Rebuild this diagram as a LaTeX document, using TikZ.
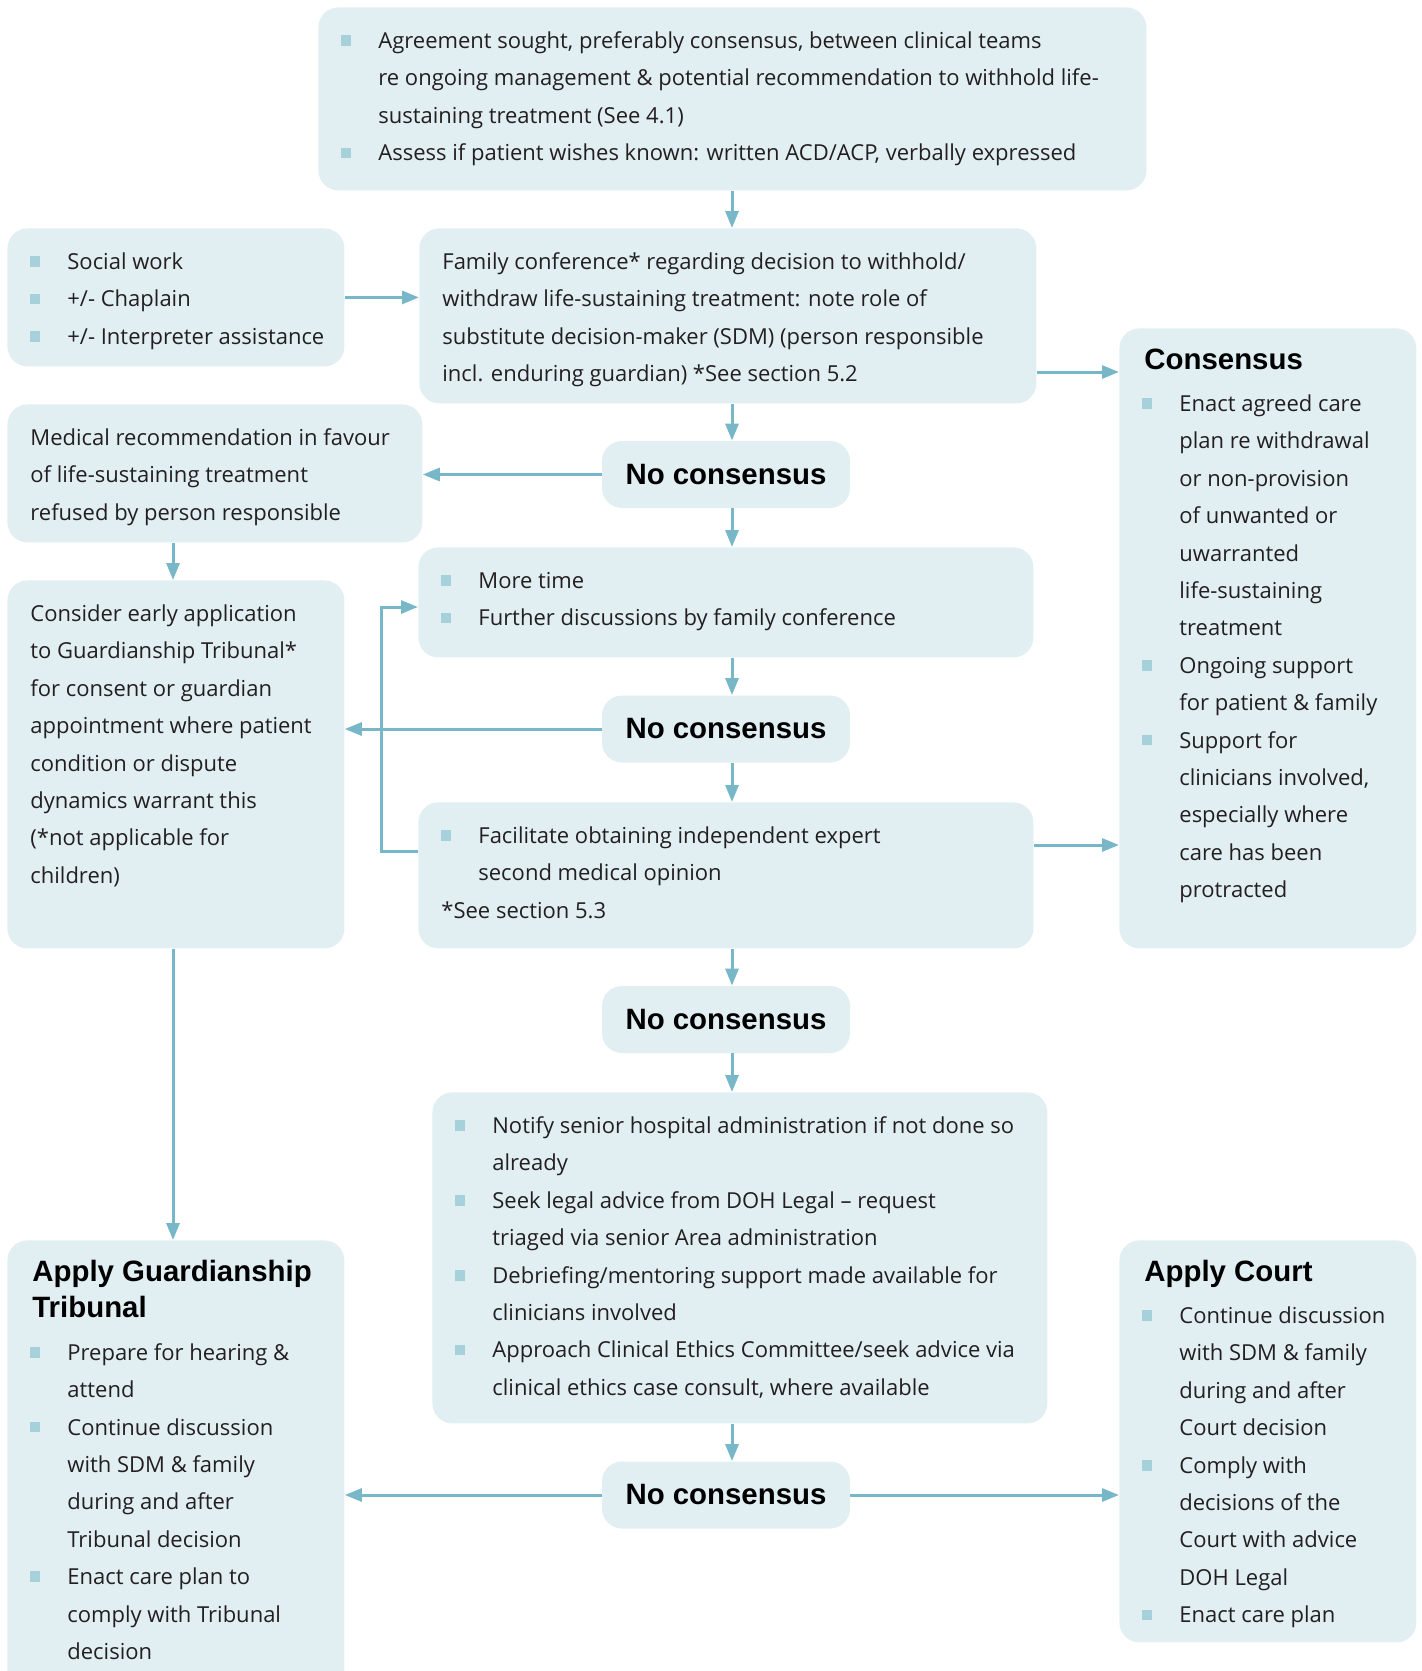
\documentclass[tikz,border=0pt]{standalone}
\usepackage{fontspec}
\setmainfont{Open Sans}
\newfontfamily\headfamily{Liberation Sans}
\usetikzlibrary{arrows.meta}

\definecolor{boxfill}{HTML}{E1EFF3}
\definecolor{arrowc}{HTML}{78B7C8}
\definecolor{bulletc}{HTML}{A6D1DB}
\definecolor{textc}{HTML}{231F20}

\newcommand{\bodyfont}{\fontsize{11}{18.7}\selectfont\color{textc}}
\newcommand{\headfont}{\headfamily\bfseries\fontsize{14.7}{18.35}\selectfont\color{black}}
\newcommand{\bul}{\par\leftskip=0pt\hangindent=30pt\hangafter=1\noindent\makebox[30pt][l]{\hspace{11.2pt}\textcolor{bulletc}{\rule[1.3pt]{5.3pt}{5.3pt}}}\strut}
\newcommand{\pln}{\par\leftskip=11.5pt\noindent\strut}
\newcommand{\hd}[1]{\par\leftskip=12.5pt\noindent{\headfont\strut #1\par}\vskip2.5pt}
\newcommand{\panel}[3]{\parbox[t][#2][t]{#1}{\bodyfont\rightskip=0pt plus 1fil minus 40pt\vskip7.5pt #3\par}}

\begin{document}
\begin{tikzpicture}[
    x=0.5pt, y=-0.5pt,
    panel/.style={fill=boxfill, rounded corners=10pt, inner sep=0pt, anchor=north west},
    nobox/.style={fill=boxfill, rounded corners=10pt, inner sep=0pt,
      minimum width=124pt, minimum height=33.5pt, font=\headfont},
    arr/.style={draw=arrowc, line width=1.5pt, -{Triangle[length=8.5pt, width=6.5pt]}}
  ]
  \useasboundingbox (0,0) rectangle (1421,1671);

  \node[panel] (top) at (318,7) {\panel{414pt}{91.5pt}{%
    \bul Agreement sought, preferably consensus, between clinical teams\\
    re ongoing management \& potential recommendation to withhold life-\\
    sustaining treatment (See 4.1)
    \bul Assess if patient wishes known: written ACD/ACP, verbally expressed}};
  \node[panel] (social) at (7,228) {\panel{168.5pt}{69pt}{%
    \bul Social work
    \bul +/- Chaplain
    \bul +/- Interpreter assistance}};
  \node[panel] (family) at (419,228) {\panel{308.5pt}{87.5pt}{%
    \pln Family conference* regarding decision to withhold/\\
    withdraw life-sustaining treatment: note role of\\
    substitute decision-maker (SDM) (person responsible\\
    incl. enduring guardian) *See section 5.2}};
  \node[panel] (consensus) at (1119,328) {\panel{148.5pt}{310pt}{%
    \hd{Consensus}
    \bul Enact agreed care\\ plan re withdrawal\\ or non-provision\\ of unwanted or\\
    uwarranted\\ life-sustaining\\ treatment
    \bul Ongoing support\\ for patient \& family
    \bul Support for\\ clinicians involved,\\ especially where\\ care has been\\ protracted}};
  \node[panel] (medical) at (7,404) {\panel{207.5pt}{69pt}{%
    \pln Medical recommendation in favour\\
    of life-sustaining treatment\\
    refused by person responsible}};
  \node[nobox] (noc1) at (726,474.5) {No consensus};
  \node[panel] (more) at (418,547) {\panel{307.5pt}{55pt}{%
    \bul More time
    \bul Further discussions by family conference}};
  \node[panel] (consider) at (7,580) {\panel{168.5pt}{184pt}{%
    \pln Consider early application\\ to Guardianship Tribunal*\\
    for consent or guardian\\ appointment where patient\\
    condition or dispute\\ dynamics warrant this\\
    (*not applicable for\\ children)}};
  \node[nobox] (noc2) at (726,729) {No consensus};
  \node[panel] (facilitate) at (418,802) {\panel{307.5pt}{73pt}{%
    \bul Facilitate obtaining independent expert\\ second medical opinion
    \pln *See section 5.3}};
  \node[nobox] (noc3) at (726,1019.5) {No consensus};
  \node[panel] (notify) at (432,1092) {\panel{307.5pt}{165.5pt}{%
    \bul Notify senior hospital administration if not done so\\ already
    \bul Seek legal advice from DOH Legal -- request\\ triaged via senior Area administration
    \bul Debriefing/mentoring support made available for\\ clinicians involved
    \bul Approach Clinical Ethics Committee/seek advice via\\ clinical ethics case consult, where available}};
  \node[nobox] (noc4) at (726,1495) {No consensus};
  \node[panel] (applygt) at (7,1240) {\panel{168.5pt}{225pt}{%
    \hd{Apply Guardianship\\ Tribunal}
    \bul Prepare for hearing \&\\ attend
    \bul Continue discussion\\ with SDM \& family\\ during and after\\ Tribunal decision
    \bul Enact care plan to\\ comply with Tribunal\\ decision}};
  \node[panel] (court) at (1119,1240) {\panel{148.5pt}{201pt}{%
    \hd{Apply Court}
    \bul Continue discussion\\ with SDM \& family\\ during and after\\ Court decision
    \bul Comply with\\ decisions of the\\ Court with advice\\ DOH Legal
    \bul Enact care plan}};

  \coordinate (spine) at (732,0);
  \coordinate (lspine) at (173,0);
  \coordinate (loop) at (381,0);
  \coordinate (c1) at (0,372);
  \coordinate (c2) at (0,845);
  \coordinate (c3) at (0,851);
  \coordinate (c4) at (0,607);

  \draw[arr] (top.south -| spine) -- (family.north -| spine);
  \draw[arr] (social.east) -- (social.east -| family.west);
  \draw[arr] (family.east |- c1) -- (consensus.west |- c1);
  \draw[arr] (family.south -| spine) -- (noc1.north -| spine);
  \draw[arr] (noc1.west) -- (noc1.west -| medical.east);
  \draw[arr] (noc1.south -| spine) -- (more.north -| spine);
  \draw[arr] (medical.south -| lspine) -- (consider.north -| lspine);
  \draw[arr] (more.south -| spine) -- (noc2.north -| spine);
  \draw[arr] (noc2.west) -- (noc2.west -| consider.east);
  \draw[arr] (noc2.south -| spine) -- (facilitate.north -| spine);
  \draw[arr] (facilitate.west |- c3) -| (loop |- c4) -- (more.west |- c4);
  \draw[arr] (facilitate.east |- c2) -- (consensus.west |- c2);
  \draw[arr] (facilitate.south -| spine) -- (noc3.north -| spine);
  \draw[arr] (noc3.south -| spine) -- (notify.north -| spine);
  \draw[arr] (consider.south -| lspine) -- (applygt.north -| lspine);
  \draw[arr] (notify.south -| spine) -- (noc4.north -| spine);
  \draw[arr] (noc4.west) -- (noc4.west -| applygt.east);
  \draw[arr] (noc4.east) -- (noc4.east -| court.west);
\end{tikzpicture}
\end{document}
